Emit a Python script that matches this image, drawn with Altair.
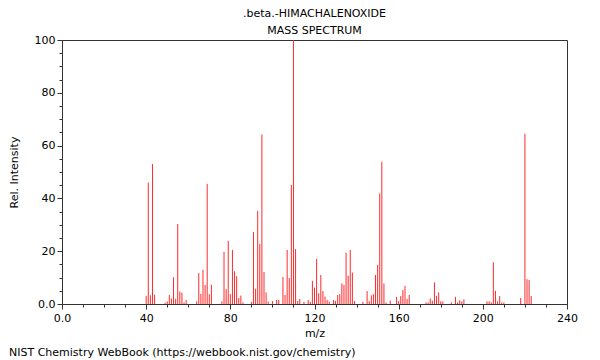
import altair as alt
import pandas as pd

# ---- data ----
mz = [40, 41, 42, 43, 44,
      49, 50, 51, 52, 53, 54, 55, 56, 57, 58, 59,
      64, 65, 66, 67, 68, 69, 70, 71,
      76, 77, 78, 79, 80, 81, 82, 83, 84, 85, 86,
      90, 91, 92, 93, 94, 95, 96, 97, 98,
      100, 102, 103, 105, 106, 107, 108, 109, 110, 111, 112, 113,
      115, 117, 118, 119, 120, 121, 122, 123, 124, 125, 126, 127,
      129, 130, 131, 132, 133, 134, 135, 136, 137, 138, 139,
      143, 145, 146, 147, 148, 149, 150, 151, 152, 153, 154,
      156, 159, 160, 161, 162, 163, 164, 165,
      173, 174, 175, 176, 177, 178, 179, 180, 181,
      185, 187, 188, 189, 190, 191,
      202, 203, 204, 205, 206, 207, 208, 209, 210,
      218, 220, 221, 222, 223]
intensity = [3.0, 46.0, 3.3, 53.0, 3.5,
             0.5, 1.0, 3.4, 2.1, 10.1, 2.0, 30.3, 4.7, 4.3, 0.6, 1.5,
             1.0, 11.7, 3.8, 13.0, 7.2, 45.5, 3.7, 7.3,
             1.0, 19.8, 5.6, 23.9, 3.7, 20.5, 12.4, 10.5, 2.3, 3.2, 0.6,
             0.8, 27.3, 5.8, 35.3, 22.7, 64.2, 12.1, 4.4, 0.9,
             1.1, 1.5, 1.5, 10.2, 3.4, 20.5, 9.8, 45.1, 100.0, 20.8, 1.1, 1.9,
             0.8, 1.5, 0.8, 8.8, 6.2, 17.1, 4.1, 11.0, 4.9, 2.8, 1.5, 0.9,
             1.5, 1.2, 3.4, 3.7, 7.8, 7.2, 19.4, 10.7, 20.5, 11.9, 1.1,
             0.8, 4.9, 1.1, 3.3, 3.7, 11.0, 14.8, 41.9, 53.9, 7.8, 0.6,
             1.3, 2.7, 1.1, 3.0, 5.3, 6.8, 1.9, 3.4,
             0.6, 0.6, 2.1, 1.3, 8.2, 3.1, 4.4, 1.0, 1.0,
             0.6, 2.7, 0.6, 1.4, 1.0, 1.8,
             1.0, 1.0, 0.6, 15.8, 5.0, 1.0, 3.0, 0.6, 0.6,
             2.3, 64.5, 9.4, 9.1, 3.0]

x_ticks = list(range(0, 241, 10))   # labelled every 40
y_ticks = list(range(0, 101, 5))    # labelled every 20

title_text = ".beta.-HIMACHALENOXIDE"
subtitle_text = "MASS SPECTRUM"
footer_text = "NIST Chemistry WebBook (https://webbook.nist.gov/chemistry)"

FONT = "DejaVu Sans"
AXIS_COLOR = "#333333"

peaks = pd.DataFrame({"mz": mz, "intensity": intensity,
                      "base": [0] * len(mz)})

bars = alt.Chart(peaks).mark_rule(color="#ff2a2a", strokeWidth=1).encode(
    x=alt.X("mz:Q", scale=alt.Scale(domain=[0, 240], nice=False, zero=False),
            axis=alt.Axis(
                values=x_ticks, title="m/z", grid=False,
                labelExpr="datum.value % 40 == 0 ? (datum.value == 0 ? '0.0' : datum.label) : ''",
                tickSize={"condition": {"test": "datum.value % 40 == 0", "value": 5}, "value": 3},
                labelPadding=3, titleY=29, titleBaseline="middle",
                labelFlush=False, labelOverlap=False)),
    y=alt.Y("intensity:Q", scale=alt.Scale(domain=[0, 100], nice=False),
            axis=alt.Axis(
                values=y_ticks, title="Rel. Intensity", grid=False,
                labelExpr="datum.value % 20 == 0 ? (datum.value == 0 ? '0.0' : datum.label) : ''",
                tickSize={"condition": {"test": "datum.value % 20 == 0", "value": 5}, "value": 3},
                labelPadding=2, titleX=-48, titleY=132, titleAngle=270,
                titleAlign="center", titleBaseline="middle",
                labelFlush=False, labelOverlap=False)),
    y2="base:Q",
)

footer = alt.Chart(pd.DataFrame({"t": [footer_text]})).mark_text(
    align="left", baseline="middle", font=FONT, fontSize=11, color="black"
).encode(text="t:N", x=alt.value(-53), y=alt.value(313))

chart = alt.layer(bars, footer).properties(
    width=505, height=264,
    padding={"left": 54, "top": 32, "right": 25, "bottom": 56},
    autosize=alt.AutoSizeParams(type="none"),
    title=alt.TitleParams(text=title_text, subtitle=subtitle_text,
                          font=FONT, subtitleFont=FONT,
                          fontSize=11, subtitleFontSize=11,
                          fontWeight="normal", color="black",
                          subtitleColor="black", anchor="middle",
                          offset=-2, subtitlePadding=6),
).configure_view(stroke=AXIS_COLOR, strokeWidth=1).configure_axis(
    labelFont=FONT, titleFont=FONT, labelFontSize=11, titleFontSize=11,
    labelColor="black", titleColor="black", titleFontWeight="normal",
    domainColor=AXIS_COLOR, tickColor=AXIS_COLOR,
)

chart.save("out.html", embed_options={"renderer": "svg", "actions": False})
